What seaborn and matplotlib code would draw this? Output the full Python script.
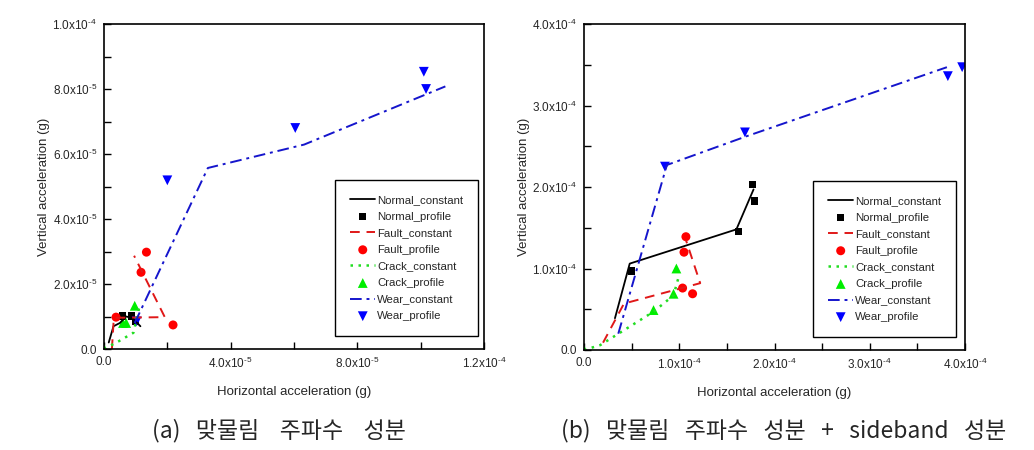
import matplotlib
matplotlib.use('Agg')
import matplotlib.pyplot as plt
import seaborn as sns

# (a) 맞물림 주파수 성분
a_normal_const_x = [1.5e-6, 3.0e-6, 5.0e-6, 7.0e-6, 9.0e-6, 11.5e-6]
a_normal_const_y = [2.0e-6, 7.0e-6, 8.0e-6, 10.0e-6, 9.5e-6, 7.0e-6]
a_normal_prof_x = [5.8e-6, 8.7e-6, 10.0e-6]
a_normal_prof_y = [10.2e-6, 10.2e-6, 8.6e-6]
a_fault_const_x = [2.5e-6, 3.1e-6, 19.2e-6, 9.5e-6]
a_fault_const_y = [0.0, 9.6e-6, 9.8e-6, 28.7e-6]
a_fault_prof_x = [3.8e-6, 13.4e-6, 11.7e-6, 21.8e-6]
a_fault_prof_y = [9.8e-6, 29.8e-6, 23.6e-6, 7.4e-6]
a_crack_const_x = [0.0, 4.5e-6, 9.3e-6, 11.3e-6]
a_crack_const_y = [0.0, 2.3e-6, 5.0e-6, 13.6e-6]
a_crack_prof_x = [0.0, 6.0e-6, 7.0e-6, 9.7e-6]
a_crack_prof_y = [0.0, 8.0e-6, 8.0e-6, 13.3e-6]
a_wear_const_x = [9.7e-6, 32.8e-6, 63.2e-6, 107.8e-6]
a_wear_const_y = [8.0e-6, 55.7e-6, 62.9e-6, 80.8e-6]
a_wear_prof_x = [10.3e-6, 20.0e-6, 60.4e-6, 101.0e-6, 101.7e-6]
a_wear_prof_y = [8.5e-6, 51.9e-6, 68.0e-6, 85.3e-6, 80.0e-6]

# (b) 맞물림 주파수 성분 + sideband 성분
b_normal_const_x = [0.325e-4, 0.48e-4, 1.60e-4, 1.78e-4]
b_normal_const_y = [0.39e-4, 1.06e-4, 1.48e-4, 1.97e-4]
b_normal_prof_x = [0.50e-4, 1.62e-4, 1.77e-4, 1.79e-4]
b_normal_prof_y = [0.97e-4, 1.45e-4, 2.03e-4, 1.83e-4]
b_fault_const_x = [0.20e-4, 0.42e-4, 1.22e-4, 1.07e-4]
b_fault_const_y = [0.09e-4, 0.57e-4, 0.82e-4, 1.35e-4]
b_fault_prof_x = [1.07e-4, 1.05e-4, 1.035e-4, 1.14e-4]
b_fault_prof_y = [1.39e-4, 1.20e-4, 0.76e-4, 0.69e-4]
b_crack_const_x = [0.0, 0.17e-4, 0.73e-4, 0.94e-4, 0.99e-4]
b_crack_const_y = [0.0, 0.06e-4, 0.47e-4, 0.67e-4, 0.88e-4]
b_crack_prof_x = [0.0, 0.73e-4, 0.94e-4, 0.97e-4]
b_crack_prof_y = [0.0, 0.49e-4, 0.69e-4, 1.00e-4]
b_wear_const_x = [0.36e-4, 0.87e-4, 1.70e-4, 3.81e-4]
b_wear_const_y = [0.20e-4, 2.27e-4, 2.62e-4, 3.47e-4]
b_wear_prof_x = [0.85e-4, 1.69e-4, 3.82e-4, 3.97e-4]
b_wear_prof_y = [2.25e-4, 2.67e-4, 3.36e-4, 3.47e-4]

H = '\u2010'  # 짧은 하이픈 (지수용)
a_xticks = [0, 2e-5, 4e-5, 6e-5, 8e-5, 10e-5, 12e-5]
a_xticklabels = ['0.0', '', '4.0x10$^{' + H + '5}$', '', '8.0x10$^{' + H + '5}$', '',
                 '1.2x10$^{' + H + '4}$']
a_yticks = [0, 1e-5, 2e-5, 3e-5, 4e-5, 5e-5, 6e-5, 7e-5, 8e-5, 9e-5, 10e-5]
a_yticklabels = ['0.0', '', '2.0x10$^{' + H + '5}$', '', '4.0x10$^{' + H + '5}$', '',
                 '6.0x10$^{' + H + '5}$', '', '8.0x10$^{' + H + '5}$', '', '1.0x10$^{' + H + '4}$']
b_ticks = [0, 0.5e-4, 1e-4, 1.5e-4, 2e-4, 2.5e-4, 3e-4, 3.5e-4, 4e-4]
b_ticklabels = ['0.0', '', '1.0x10$^{' + H + '4}$', '', '2.0x10$^{' + H + '4}$', '',
                '3.0x10$^{' + H + '4}$', '', '4.0x10$^{' + H + '4}$']

sns.set_style('white')
plt.rcParams['font.family'] = ['Liberation Sans', 'DejaVu Sans']
plt.rcParams['mathtext.fontset'] = 'custom'
plt.rcParams['mathtext.rm'] = 'Liberation Sans'
plt.rcParams['mathtext.it'] = 'Liberation Sans'

fig = plt.figure(figsize=(10.34, 4.5), dpi=100)
ax_a = fig.add_axes([104 / 1034, 101 / 450, 380 / 1034, 325 / 450])
ax_b = fig.add_axes([584 / 1034, 100 / 450, 381 / 1034, 326 / 450])


def draw(ax, d):
    sns.lineplot(x=d['nc'][0], y=d['nc'][1], sort=False, estimator=None, color='black',
                 lw=1.3, label='Normal_constant', legend=False, ax=ax)
    sns.scatterplot(x=d['np'][0], y=d['np'][1], marker='s', color='black', s=28,
                    edgecolor='none', label='Normal_profile', legend=False, ax=ax)
    sns.lineplot(x=d['fc'][0], y=d['fc'][1], sort=False, estimator=None, color='#e01818',
                 lw=1.4, label='Fault_constant', legend=False, ax=ax)
    ax.lines[-1].set_linestyle((0, (5, 3.5)))
    sns.scatterplot(x=d['fp'][0], y=d['fp'][1], marker='o', color='#ff0000', s=42,
                    edgecolor='none', label='Fault_profile', legend=False, ax=ax)
    sns.lineplot(x=d['cc'][0], y=d['cc'][1], sort=False, estimator=None, color='#22dd22',
                 lw=1.8, label='Crack_constant', legend=False, ax=ax)
    ax.lines[-1].set_linestyle((0, (1, 2.2)))
    sns.scatterplot(x=d['cp'][0], y=d['cp'][1], marker='^', color='#00ee00', s=50,
                    edgecolor='none', label='Crack_profile', legend=False, ax=ax)
    sns.lineplot(x=d['wc'][0], y=d['wc'][1], sort=False, estimator=None, color='#1515cc',
                 lw=1.4, label='Wear_constant', legend=False, ax=ax)
    ax.lines[-1].set_linestyle((0, (6, 2.5, 1.5, 2.5)))
    sns.scatterplot(x=d['wp'][0], y=d['wp'][1], marker='v', color='#0000ff', s=50,
                    edgecolor='none', label='Wear_profile', legend=False, ax=ax)


draw(ax_a, {'nc': (a_normal_const_x, a_normal_const_y), 'np': (a_normal_prof_x, a_normal_prof_y),
            'fc': (a_fault_const_x, a_fault_const_y), 'fp': (a_fault_prof_x, a_fault_prof_y),
            'cc': (a_crack_const_x, a_crack_const_y), 'cp': (a_crack_prof_x, a_crack_prof_y),
            'wc': (a_wear_const_x, a_wear_const_y), 'wp': (a_wear_prof_x, a_wear_prof_y)})
draw(ax_b, {'nc': (b_normal_const_x, b_normal_const_y), 'np': (b_normal_prof_x, b_normal_prof_y),
            'fc': (b_fault_const_x, b_fault_const_y), 'fp': (b_fault_prof_x, b_fault_prof_y),
            'cc': (b_crack_const_x, b_crack_const_y), 'cp': (b_crack_prof_x, b_crack_prof_y),
            'wc': (b_wear_const_x, b_wear_const_y), 'wp': (b_wear_prof_x, b_wear_prof_y)})

ax_a.set_xlim(0, 1.2e-4)
ax_a.set_ylim(0, 1.0e-4)
ax_a.set_xticks(a_xticks, a_xticklabels)
ax_a.set_yticks(a_yticks, a_yticklabels)
ax_b.set_xlim(0, 4e-4)
ax_b.set_ylim(0, 4e-4)
ax_b.set_xticks(b_ticks, b_ticklabels)
ax_b.set_yticks(b_ticks, b_ticklabels)

for ax, lx in [(ax_a, 0.609), (ax_b, 0.602)]:
    for sp in ax.spines.values():
        sp.set_color('black')
        sp.set_linewidth(1.2)
    ax.tick_params(direction='in', length=5, width=1, labelsize=8.5, color='black',
                   pad=5, bottom=True, left=True)
    ax.set_xlabel('Horizontal acceleration (g)', fontsize=9.5, labelpad=11)
    ax.set_ylabel('Vertical acceleration (g)', fontsize=9.5, labelpad=2)
    ax.legend(loc='lower left', bbox_to_anchor=(lx, 0.04), borderaxespad=0,
              fontsize=8.2, frameon=True, fancybox=False, edgecolor='black',
              framealpha=1, borderpad=1.3, labelspacing=0.58, handlelength=2.2,
              handletextpad=0.15, markerscale=1.0).get_frame().set_linewidth(1.0)

fig.text(279 / 1034, 1 - 431 / 450, '(a)   맞물림    주파수    성분', ha='center', va='center',
         fontsize=16.5, family=['Noto Sans CJK KR', 'DejaVu Sans'])
fig.text(784 / 1034, 1 - 431 / 450, '(b)   맞물림   주파수   성분   +   sideband   성분',
         ha='center', va='center', fontsize=16.5, family=['Noto Sans CJK KR', 'DejaVu Sans'])

fig.savefig('out.png', dpi=100)
